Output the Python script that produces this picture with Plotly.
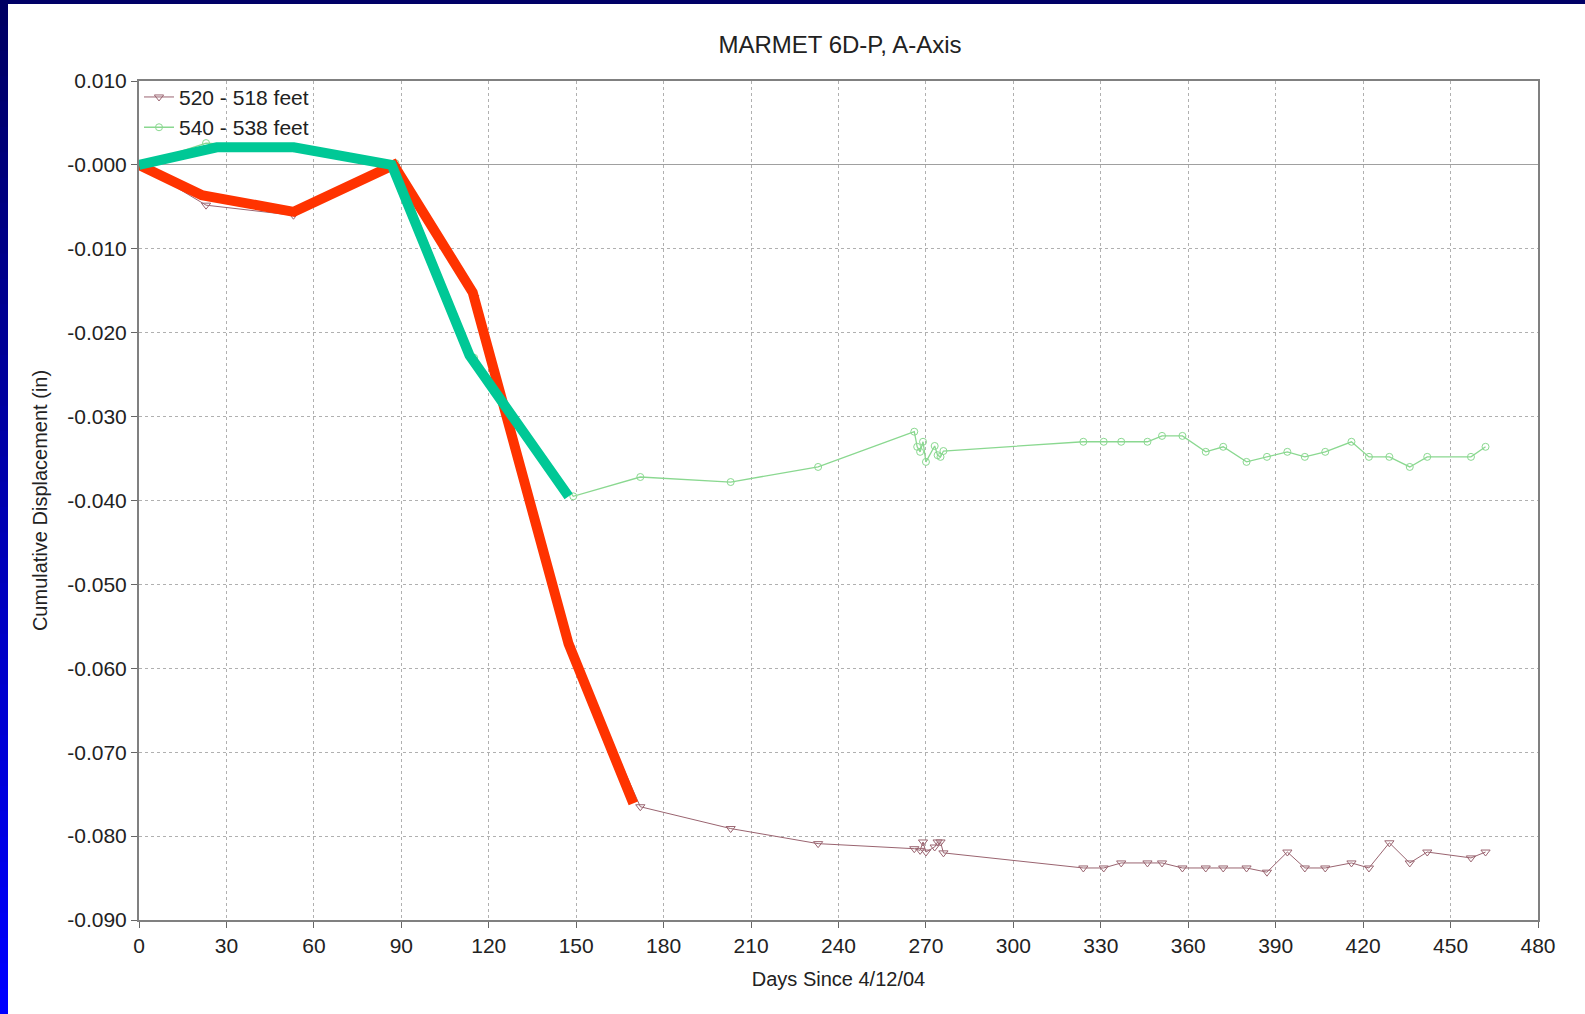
import plotly.graph_objects as go

# ---- data -------------------------------------------------------------
# 520 - 518 feet (days since 4/12/04, cumulative displacement in inches)
days_520 = [0, 23, 53, 88, 115, 148, 172, 203, 233, 266, 268, 269, 270, 273, 274, 275, 276,
            324, 331, 337, 346, 351, 358, 366, 372, 380, 387, 394, 400, 407, 416, 422,
            429, 436, 442, 457, 462]
disp_520 = [0.0, -0.0048, -0.0060, -0.0002, -0.0158, -0.0576, -0.0765, -0.0791, -0.0809,
            -0.0815, -0.0817, -0.0807, -0.0819, -0.0813, -0.0807, -0.0807, -0.0820,
            -0.0838, -0.0838, -0.0832, -0.0832, -0.0832, -0.0838, -0.0838, -0.0838,
            -0.0838, -0.0843, -0.0819, -0.0838, -0.0838, -0.0832, -0.0838, -0.0808,
            -0.0832, -0.0819, -0.0826, -0.0819]

# 540 - 538 feet
days_540 = [0, 23, 53, 88, 115, 149, 172, 203, 233, 266, 267, 268, 269, 270, 273, 274, 275, 276,
            324, 331, 337, 346, 351, 358, 366, 372, 380, 387, 394, 400, 407, 416, 422,
            429, 436, 442, 457, 462]
disp_540 = [0.0, 0.0026, 0.0020, 0.0002, -0.0230, -0.0395, -0.0372, -0.0378, -0.0360,
            -0.0318, -0.0336, -0.0342, -0.0330, -0.0354, -0.0335, -0.0346, -0.0348, -0.0341,
            -0.0330, -0.0330, -0.0330, -0.0330, -0.0323, -0.0323, -0.0342, -0.0336,
            -0.0354, -0.0348, -0.0342, -0.0348, -0.0342, -0.0330, -0.0348, -0.0348,
            -0.0360, -0.0348, -0.0348, -0.0336]

# hand-drawn highlight traces over the early readings
hl_red_days = [0, 21.5, 53.1, 87.4, 114.5, 147.4, 169.6]
hl_red_disp = [0.0, -0.0036, -0.0056, 0.0, -0.0152, -0.0571, -0.0761]
hl_teal_days = [0, 26.7, 53.1, 86.7, 113.4, 147.4]
hl_teal_disp = [0.0, 0.0021, 0.0021, 0.0, -0.0227, -0.0395]

x_ticks = list(range(0, 481, 30))
y_ticks = [0.01, 0.0, -0.01, -0.02, -0.03, -0.04, -0.05, -0.06, -0.07, -0.08, -0.09]
y_tick_text = ["0.010", "-0.000", "-0.010", "-0.020", "-0.030", "-0.040", "-0.050",
               "-0.060", "-0.070", "-0.080", "-0.090"]

# ---- figure -----------------------------------------------------------
W, H = 1585, 1014
ML, MR, MT, MB = 139, 47, 81, 94
PW, PH = W - ML - MR, H - MT - MB

FONT = "Liberation Sans, Arial, sans-serif"
TXT = "#222222"
FS = 20
TICK_FS = 21

fig = go.Figure()

fig.add_trace(go.Scatter(
    x=days_520, y=disp_520, mode="lines+markers", name="520 - 518 feet",
    line=dict(color="#9a6470", width=1),
    marker=dict(symbol="triangle-down-open", size=8, color="#9a6470", line=dict(width=1)),
))
fig.add_trace(go.Scatter(
    x=days_540, y=disp_540, mode="lines+markers", name="540 - 538 feet",
    line=dict(color="#8ad890", width=1.3),
    marker=dict(symbol="circle-open", size=7, color="#8ad890", line=dict(width=1)),
))
fig.add_trace(go.Scatter(
    x=hl_red_days, y=hl_red_disp, mode="lines", showlegend=False,
    line=dict(color="#ff3300", width=10),
))
fig.add_trace(go.Scatter(
    x=hl_teal_days, y=hl_teal_disp, mode="lines", showlegend=False,
    line=dict(color="#00c896", width=10),
))


def px_x(p):
    return (p - ML) / PW


def px_y(p):
    return 1 - (p - MT) / PH


# slide frame: dark band along the top, vertical gradient band on the left
shapes = [dict(type="rect", xref="paper", yref="paper",
               x0=px_x(0), x1=px_x(W), y0=px_y(4), y1=px_y(0),
               fillcolor="#000066", line=dict(width=0), layer="above")]
steps = 40
for i in range(steps):
    t = i / (steps - 1)
    b = int(100 + (255 - 100) * t)
    y0p = i * H / steps
    y1p = (i + 1) * H / steps + 2
    shapes.append(dict(type="rect", xref="paper", yref="paper",
                       x0=px_x(0), x1=px_x(8), y0=px_y(y1p), y1=px_y(y0p),
                       fillcolor=f"rgb(0,0,{b})", line=dict(width=0), layer="above"))

fig.update_layout(
    width=W, height=H,
    margin=dict(l=ML, r=MR, t=MT, b=MB, pad=0),
    paper_bgcolor="white", plot_bgcolor="white",
    font=dict(family=FONT, color=TXT, size=FS),
    title=dict(text="MARMET 6D-P, A-Axis", x=(840 - ML) / PW, xref="paper", xanchor="center",
               y=1 - 45 / H, yanchor="middle", font=dict(size=24, color=TXT)),
    showlegend=True,
    legend=dict(x=0.0, y=1.005, xanchor="left", yanchor="top", bgcolor="rgba(0,0,0,0)",
                font=dict(size=21, color=TXT), itemwidth=30,
                tracegroupgap=0, borderwidth=0),
    shapes=shapes,
    xaxis=dict(
        range=[0, 480], tickvals=x_ticks, ticks="outside", ticklen=6, tickcolor="#666666",
        showgrid=True, gridcolor="#b0b0b0", griddash="dot", gridwidth=1,
        zeroline=False, showline=True, linecolor="#808080", linewidth=2, mirror=True,
        tickfont=dict(size=TICK_FS, color=TXT), automargin=False,
        title=dict(text="Days Since 4/12/04", font=dict(size=FS, color=TXT), standoff=16),
    ),
    yaxis=dict(
        range=[-0.09, 0.01], tickvals=y_ticks, ticktext=y_tick_text, ticks="outside", ticklen=6,
        tickcolor="#666666",
        showgrid=True, gridcolor="#b0b0b0", griddash="dot", gridwidth=1,
        zeroline=True, zerolinecolor="#a0a0a0", zerolinewidth=1,
        showline=True, linecolor="#808080", linewidth=2, mirror=True,
        tickfont=dict(size=TICK_FS, color=TXT), automargin=False,
        title=dict(text="Cumulative Displacement (in)", font=dict(size=FS, color=TXT),
                   standoff=14),
    ),
)

fig.write_html("out.html")
